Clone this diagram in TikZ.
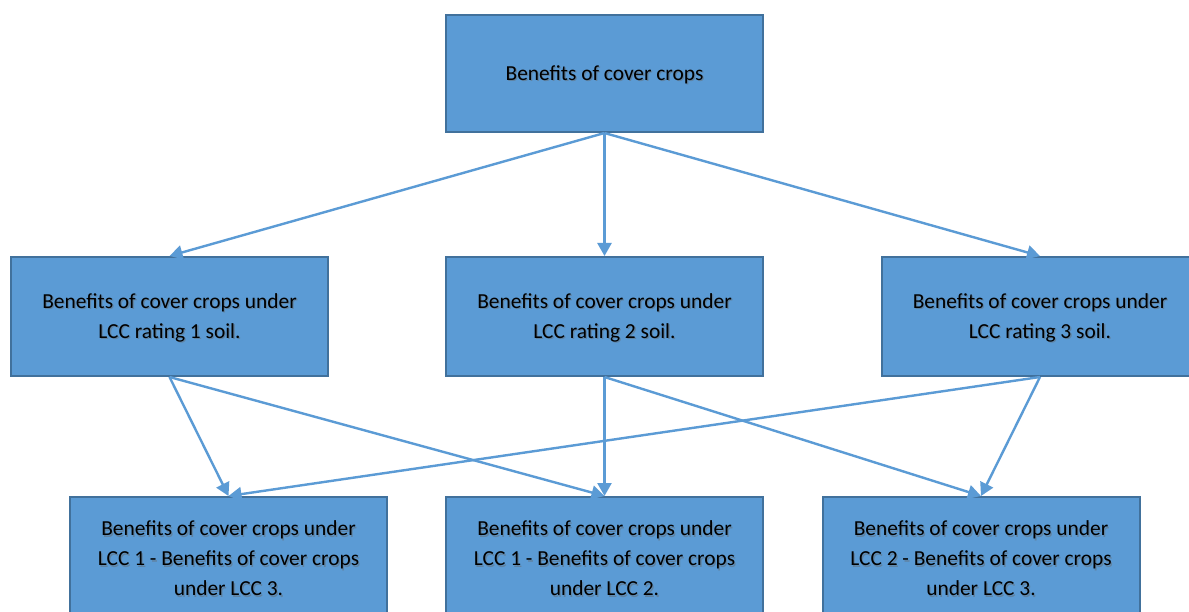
\documentclass[tikz,border=0pt]{standalone}
\usepackage{fontspec}
\setmainfont{Carlito}
\usetikzlibrary{arrows.meta}
\definecolor{boxfill}{HTML}{5B9BD5}
\definecolor{boxline}{HTML}{41719C}
\newcommand{\mybox}[5]{%
  \node[box,minimum height=#4] (#1) at (#2,#3) {};
  \node[lbl,text=black!60,opacity=0.45] (#1-sh) at ([xshift=1.3pt,yshift=-2.8pt]#1.center) {#5};
  \node[lbl] (#1-t) at ([yshift=-1.5pt]#1.center) {#5};
}
\begin{document}
\begin{tikzpicture}[x=1pt,y=-1pt,
  box/.style={draw=boxline,line width=2pt,fill=boxfill,minimum width=317pt,inner sep=0pt},
  lbl/.style={align=center,font=\fontsize{21.4}{30}\selectfont,text=black,inner sep=0pt},
  conn/.style={draw=boxfill,line width=2.4pt,-{Triangle[length=13pt,width=14pt]}}]
\useasboundingbox (0,0) rectangle (1189,612);
\clip (0,0) rectangle (1189,612);
\fill[white] (0,0) rectangle (1189,612);
\mybox{top}{604.5}{73.5}{117pt}{Benefits of cover crops}
\mybox{m1}{169.5}{316.5}{119pt}{Benefits of cover crops under\\LCC rating 1 soil.}
\mybox{m2}{604.5}{316.5}{119pt}{Benefits of cover crops under\\LCC rating 2 soil.}
\mybox{m3}{1040}{316.5}{119pt}{Benefits of cover crops under\\LCC rating 3 soil.}
\mybox{b1}{228.5}{557}{120pt}{Benefits of cover crops under\\LCC 1 - Benefits of cover crops\\under LCC 3.}
\mybox{b2}{604.5}{557}{120pt}{Benefits of cover crops under\\LCC 1 - Benefits of cover crops\\under LCC 2.}
\mybox{b3}{981}{557}{120pt}{Benefits of cover crops under\\LCC 2 - Benefits of cover crops\\under LCC 3.}
\draw[conn] (top.south) -- (m1.north);
\draw[conn] (top.south) -- (m2.north);
\draw[conn] (top.south) -- (m3.north);
\draw[conn] (m1.south) -- (b1.north);
\draw[conn] (m1.south) -- (b2.north);
\draw[conn] (m2.south) -- (b2.north);
\draw[conn] (m2.south) -- (b3.north);
\draw[conn] (m3.south) -- (b1.north);
\draw[conn] (m3.south) -- (b3.north);
\end{tikzpicture}
\end{document}
